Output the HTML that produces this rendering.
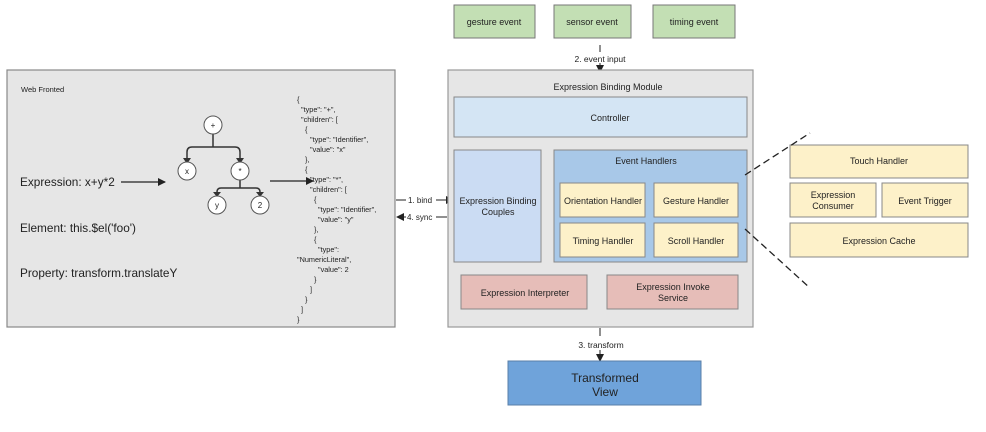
<!DOCTYPE html>
<html><head><meta charset="utf-8"><style>body{margin:0;background:#fff}svg{display:block}text{font-family:"Liberation Sans",sans-serif;fill:#222}</style></head>
<body>
<svg width="986" height="432" viewBox="0 0 986 432" xmlns="http://www.w3.org/2000/svg">
<defs><marker id="a" markerWidth="8" markerHeight="8" refX="7" refY="4" orient="auto" markerUnits="userSpaceOnUse"><path d="M0,0 L8,4 L0,8 Z" fill="#222"/></marker></defs>
<rect x="7" y="70" width="388" height="257" fill="#e6e6e6" stroke="#888" stroke-width="1.2"/>
<text x="21" y="92" font-size="7.5">Web Fronted</text>
<text x="20" y="186" font-size="11.8">Expression: x+y*2</text>
<text x="20" y="232" font-size="11.8">Element: this.$el('foo')</text>
<text x="20" y="277" font-size="11.8">Property: transform.translateY</text>
<line x1="121" y1="182" x2="165" y2="182" stroke="#222" stroke-width="1.3" marker-end="url(#a)"/>
<g stroke="#333" stroke-width="1.5" fill="none">
<path d="M213,134 V147 M187,162 V152 Q187,147 192,147 H235 Q240,147 240,152 V162"/>
<path d="M240,180 V188 M217,196 V192 Q217,188 221,188 H256 Q260,188 260,192 V196"/>
</g>
<g fill="#333"><path d="M183,158 L187,164 L191,158Z"/><path d="M236,158 L240,164 L244,158Z"/><path d="M213,192 L217,197 L221,192Z"/><path d="M256,192 L260,197 L264,192Z"/></g>
<g fill="#fff" stroke="#555" stroke-width="1">
<circle cx="213" cy="125" r="9"/><circle cx="187" cy="171" r="9"/><circle cx="240" cy="171" r="9"/><circle cx="217" cy="205" r="9"/><circle cx="260" cy="205" r="9"/></g>
<g font-size="8" text-anchor="middle"><text x="213" y="128">+</text><text x="187" y="174">x</text><text x="240" y="174">*</text><text x="217" y="208">y</text><text x="260" y="208">2</text></g>
<line x1="270" y1="181" x2="313" y2="181" stroke="#222" stroke-width="1.3" marker-end="url(#a)"/>
<g font-size="7.3">
<text x="297" y="102">{</text>
<text x="301" y="112">"type": "+",</text>
<text x="301" y="122">"children": [</text>
<text x="305" y="132">{</text>
<text x="310" y="142">"type": "Identifier",</text>
<text x="310" y="152">"value": "x"</text>
<text x="305" y="162">},</text>
<text x="305" y="172">{</text>
<text x="310" y="182">"type": "*",</text>
<text x="310" y="192">"children": [</text>
<text x="314" y="202">{</text>
<text x="318" y="212">"type": "Identifier",</text>
<text x="318" y="222">"value": "y"</text>
<text x="314" y="232">},</text>
<text x="314" y="242">{</text>
<text x="318" y="252">"type":</text>
<text x="297" y="262">"NumericLiteral",</text>
<text x="318" y="272">"value": 2</text>
<text x="314" y="282">}</text>
<text x="310" y="292">]</text>
<text x="305" y="302">}</text>
<text x="301" y="312">]</text>
<text x="297" y="322">}</text>
</g>
<line x1="396" y1="200" x2="406" y2="200" stroke="#222"/>
<text x="408" y="203" font-size="8">1. bind</text>
<line x1="436" y1="200" x2="453" y2="200" stroke="#222" marker-end="url(#a)"/>
<line x1="406" y1="217" x2="397" y2="217" stroke="#222" marker-end="url(#a)"/>
<text x="407" y="220" font-size="8">4. sync</text>
<line x1="436" y1="217" x2="447" y2="217" stroke="#222"/>
<g stroke="#777" fill="#c3dfb4"><rect x="454" y="5" width="81" height="33"/><rect x="554" y="5" width="77" height="33"/><rect x="653" y="5" width="82" height="33"/></g>
<g font-size="9" text-anchor="middle"><text x="494" y="25">gesture event</text><text x="592" y="25">sensor event</text><text x="694" y="25">timing event</text></g>
<line x1="600" y1="45" x2="600" y2="52" stroke="#222"/>
<text x="600" y="62" font-size="8.5" text-anchor="middle">2. event input</text>
<line x1="600" y1="63" x2="600" y2="72" stroke="#222" marker-end="url(#a)"/>
<rect x="448" y="70" width="305" height="257" fill="#e6e6e6" stroke="#999" stroke-width="1.2"/>
<text x="608" y="90" font-size="9" text-anchor="middle">Expression Binding Module</text>
<rect x="454" y="97" width="293" height="40" fill="#d4e5f4" stroke="#888"/>
<text x="610" y="121" font-size="9" text-anchor="middle">Controller</text>
<rect x="454" y="150" width="87" height="112" fill="#cbdcf3" stroke="#888"/>
<text x="498" y="204" font-size="9" text-anchor="middle">Expression Binding</text>
<text x="498" y="215" font-size="9" text-anchor="middle">Couples</text>
<rect x="554" y="150" width="193" height="112" fill="#a8c8e8" stroke="#888"/>
<text x="646" y="164" font-size="9" text-anchor="middle">Event Handlers</text>
<g fill="#fdf1c9" stroke="#888"><rect x="560" y="183" width="85" height="34"/><rect x="654" y="183" width="84" height="34"/><rect x="560" y="223" width="85" height="34"/><rect x="654" y="223" width="84" height="34"/>
<rect x="790" y="145" width="178" height="33"/><rect x="790" y="183" width="86" height="34"/><rect x="882" y="183" width="86" height="34"/><rect x="790" y="223" width="178" height="34"/></g>
<g font-size="9" text-anchor="middle">
<text x="603" y="204">Orientation Handler</text><text x="696" y="204">Gesture Handler</text>
<text x="603" y="244">Timing Handler</text><text x="696" y="244">Scroll Handler</text>
<text x="879" y="164">Touch Handler</text><text x="833" y="198">Expression</text><text x="833" y="209">Consumer</text>
<text x="925" y="204">Event Trigger</text><text x="879" y="244">Expression Cache</text>
</g>
<g stroke="#222" stroke-width="1.3" stroke-dasharray="7,4"><line x1="745" y1="175" x2="810" y2="133"/><line x1="745" y1="229" x2="810" y2="288"/></g>
<g fill="#e6bdb8" stroke="#888"><rect x="461" y="275" width="126" height="34"/><rect x="607" y="275" width="131" height="34"/></g>
<g font-size="9" text-anchor="middle"><text x="525" y="296">Expression Interpreter</text><text x="673" y="290">Expression Invoke</text><text x="673" y="301">Service</text></g>
<line x1="600" y1="328" x2="600" y2="336" stroke="#222"/>
<text x="601" y="348" font-size="8.5" text-anchor="middle">3. transform</text>
<line x1="600" y1="350" x2="600" y2="361" stroke="#222" marker-end="url(#a)"/>
<rect x="508" y="361" width="193" height="44" fill="#6fa3da" stroke="#5a7fa8"/>
<text x="605" y="382" font-size="12" text-anchor="middle">Transformed</text>
<text x="605" y="396" font-size="12" text-anchor="middle">View</text>
</svg>
</body></html>
